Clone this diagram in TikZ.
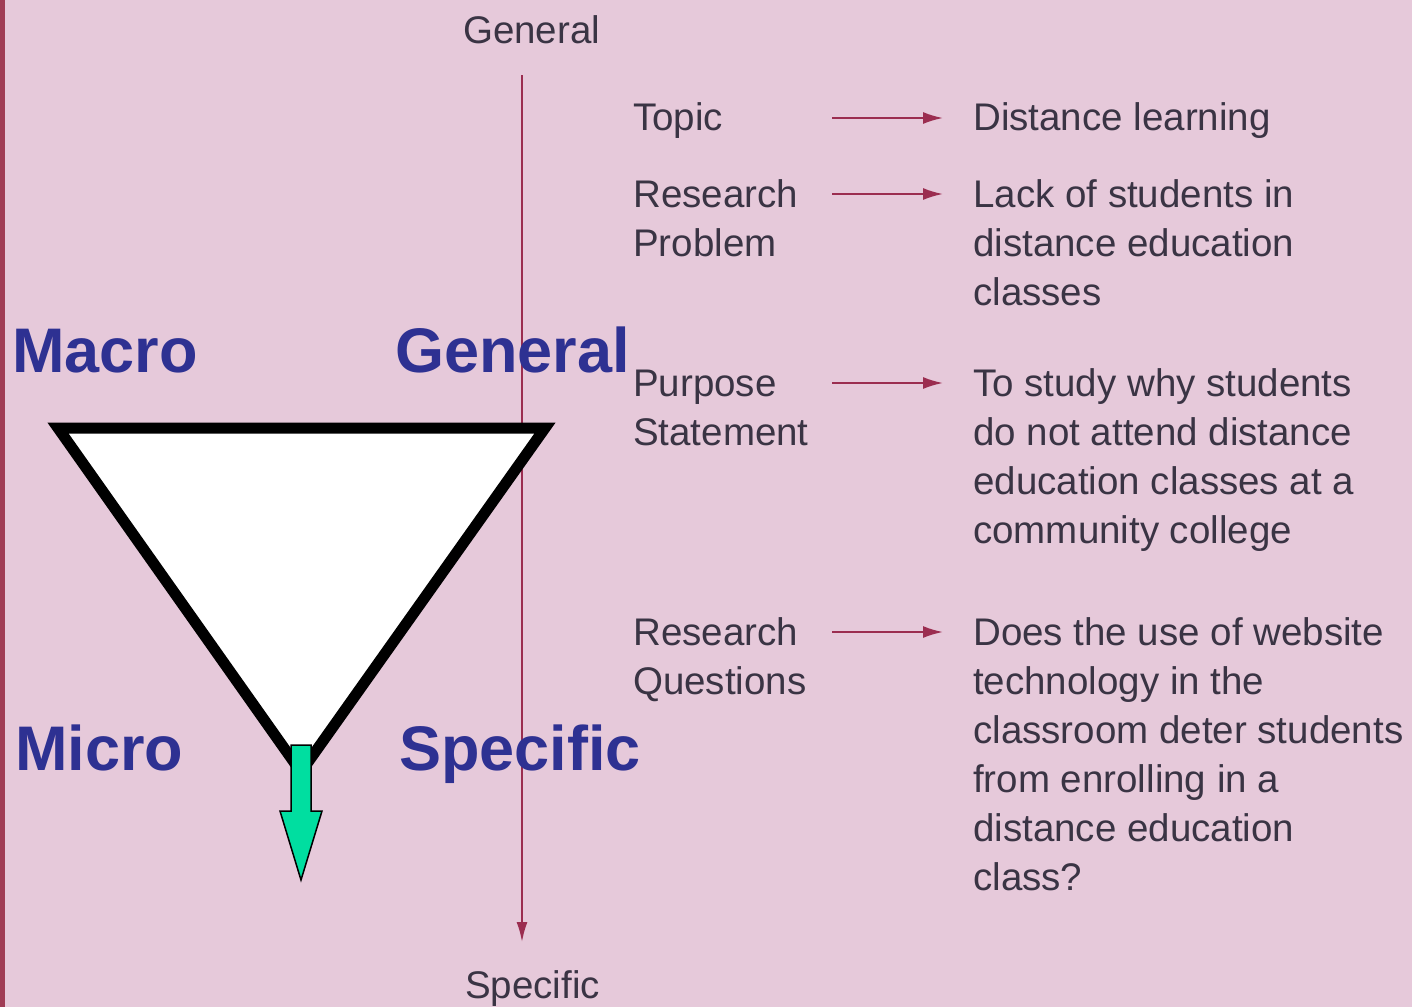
\documentclass[tikz,border=0pt]{standalone}
\usepackage{fontspec}
\setmainfont{Liberation Sans}
\usetikzlibrary{arrows.meta}
\definecolor{bgpink}{RGB}{230,201,218}
\definecolor{edgered}{RGB}{160,60,85}
\definecolor{linered}{RGB}{155,45,80}
\definecolor{txtgrey}{RGB}{58,52,68}
\definecolor{bigblue}{RGB}{46,49,146}
\definecolor{aqua}{RGB}{0,222,160}
\begin{document}
\begin{tikzpicture}[x=1pt,y=-1pt,
  lbl/.style={font=\fontsize{38.5}{49}\selectfont, text=txtgrey, align=left, anchor=base west, inner sep=0pt},
  big/.style={font=\fontsize{63}{63}\selectfont\bfseries, text=bigblue, anchor=base west, inner sep=0pt},
  rarr/.style={draw=linered, line width=2pt, -{Latex[length=20pt,width=12pt]}},
  funnel/.style={draw=black, line width=11pt, fill=white, line join=miter, miter limit=10},
  greenarrow/.style={draw=black, line width=1.5pt, fill=aqua, line join=miter}]
\fill[bgpink] (0,0) rectangle (1412,1007);
\useasboundingbox (0,0) rectangle (1412,1007);
\fill[edgered] (0,0) rectangle (5,1007);
% vertical scale
\node[lbl] (genT) at (463,43) {General};
\node[lbl] (specB) at (465,998) {Specific};
\coordinate (vtop) at (522,75);
\coordinate (vbot) at (522,942);
\draw[linered, line width=2pt, -{Latex[length=20pt,width=11pt]}] (vtop) -- (vbot);
% left labels (anchor at baseline of last line)
\node[lbl] (topic) at (633,130) {Topic};
\node[lbl] (rprob) at (633,256) {Research\\Problem};
\node[lbl] (purp) at (633,445) {Purpose\\Statement};
\node[lbl] (rques) at (633,694) {Research\\Questions};
% right texts
\node[lbl] (dl) at (973,130) {Distance learning};
\node[lbl] (lack) at (973,305) {Lack of students in\\distance education\\classes};
\node[lbl] (study) at (973,543) {To study why students\\do not attend distance\\education classes at a\\community college};
\node[lbl] (does) at (973,890) {Does the use of website\\technology in the\\classroom deter students\\from enrolling in a\\distance education\\class?};
% arrows
\coordinate (a1s) at (832,118); \coordinate (a1e) at (943,118);
\coordinate (a2s) at (832,194); \coordinate (a2e) at (943,194);
\coordinate (a3s) at (832,383); \coordinate (a3e) at (943,383);
\coordinate (a4s) at (832,632); \coordinate (a4e) at (943,632);
\draw[rarr] (a1s) -- (a1e);
\draw[rarr] (a2s) -- (a2e);
\draw[rarr] (a3s) -- (a3e);
\draw[rarr] (a4s) -- (a4e);
% funnel
\draw[funnel] (58,428) -- (545,428) -- (301,772) -- cycle;
\draw[greenarrow] (291,745) -- (311,745) -- (311,811) -- (322,811) -- (301,880) -- (280,811) -- (291,811) -- cycle;
% big labels
\node[big] (macro) at (12,372) {Macro};
\node[big] (genBig) at (395,372) {General};
\node[big] (micro) at (15,770) {Micro};
\node[big] (specBig) at (399,770) {Specific};
\end{tikzpicture}
\end{document}
